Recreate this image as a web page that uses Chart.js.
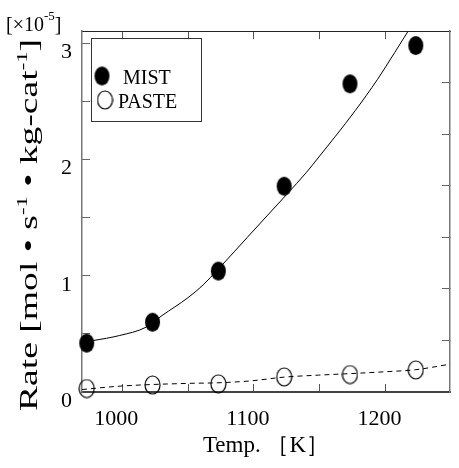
<!DOCTYPE html>
<html>
<head>
<meta charset="utf-8">
<script src="https://cdn.jsdelivr.net/npm/chart.js@4.4.1/dist/chart.umd.min.js"></script>
<style>
  html, body { margin: 0; padding: 0; background: #fff; }
</style>
</head>
<body>
<canvas id="chart-rate" width="459" height="468"></canvas>
<script>
// measured points (rate in 1e-5 mol/s/kg-cat)
const tempK = [973, 1023, 1073, 1123, 1173, 1223];
const mistRate = [0.42, 0.60, 1.04, 1.77, 2.65, 2.98];
const pasteRate = [0.03, 0.06, 0.07, 0.13, 0.15, 0.19];

// fitted curves
const mistFitT = [969.4, 978, 998, 1018, 1030, 1050, 1062, 1072, 1085, 1095, 1110, 1125, 1140, 1150, 1162, 1177, 1194, 1207, 1217];
const mistFitR = [0.43, 0.443, 0.486, 0.557, 0.656, 0.812, 0.927, 1.046, 1.205, 1.33, 1.515, 1.70, 1.89, 2.03, 2.20, 2.42, 2.69, 2.92, 3.10];
const pasteFitT = [969.4, 999, 1049, 1072, 1098, 1123, 1149, 1173, 1198, 1223, 1249];
const pasteFitR = [0.021, 0.051, 0.074, 0.079, 0.096, 0.128, 0.145, 0.158, 0.173, 0.192, 0.239];

const xTickLabels = [1000, 1100, 1200];
const yTickLabels = [0, 1, 2, 3];

const serif = 'Liberation Serif';
const pts = (xs, ys) => xs.map((x, i) => ({ x: x, y: ys[i] }));

// slightly tall ellipses, like the scanned figure
function marker(w, h, filled) {
  const c = document.createElement('canvas');
  c.width = w + 2;
  c.height = h + 2;
  const g = c.getContext('2d');
  g.beginPath();
  g.ellipse(c.width / 2, c.height / 2, w / 2, h / 2, 0, 0, Math.PI * 2);
  if (filled) {
    g.fillStyle = '#000';
    g.fill();
  } else {
    g.lineWidth = 1.2;
    g.strokeStyle = '#000';
    g.stroke();
  }
  return c;
}
const mistMarker = marker(15, 19, true);
const pasteMarker = marker(15, 18, false);

// legend box, y title and exponent are drawn by hand
const decorations = {
  id: 'decorations',
  afterDraw(chart) {
    const ctx = chart.ctx;
    ctx.save();

    // legend
    ctx.strokeStyle = '#333';
    ctx.lineWidth = 1;
    ctx.strokeRect(91.5, 38.5, 110, 83);
    ctx.drawImage(mistMarker, 102 - mistMarker.width / 2, 76 - mistMarker.height / 2);
    ctx.drawImage(pasteMarker, 105 - pasteMarker.width / 2, 100 - pasteMarker.height / 2);
    ctx.fillStyle = '#000';
    ctx.font = '20px "' + serif + '"';
    ctx.textBaseline = 'alphabetic';
    ctx.textAlign = 'left';
    ctx.fillText(chart.data.datasets[0].label, 123, 84);
    ctx.fillText(chart.data.datasets[1].label, 118, 108);

    // exponent  [x10^-5]
    ctx.font = '20px "' + serif + '"';
    ctx.fillText('[\u00d710', 6, 31);
    let w = ctx.measureText('[\u00d710').width;
    ctx.font = '13px "' + serif + '"';
    ctx.fillText('-5', 6 + w, 20);
    w += ctx.measureText('-5').width;
    ctx.font = '20px "' + serif + '"';
    ctx.fillText(']', 6 + w, 31);

    // y title, stretched along its length like the original
    const segs = [['Rate [mol \u2022 s', false], ['-1', true], [' \u2022 kg-cat', false], ['-1', true], [']', false]];
    const mainFont = '25px "' + serif + '"';
    const supFont = '15px "' + serif + '"';
    let total = 0;
    segs.forEach(s => {
      ctx.font = s[1] ? supFont : mainFont;
      total += ctx.measureText(s[0]).width;
    });
    ctx.translate(37, 411);
    ctx.rotate(-Math.PI / 2);
    ctx.scale(372 / total, 1);
    let x = 0;
    segs.forEach(s => {
      ctx.font = s[1] ? supFont : mainFont;
      ctx.fillText(s[0], x, s[1] ? -10 : 0);
      x += ctx.measureText(s[0]).width;
    });
    ctx.restore();
  }
};

const ctx = document.getElementById('chart-rate');

new Chart(ctx, {
  type: 'scatter',
  data: {
    datasets: [
      {
        label: 'MIST',
        data: pts(tempK, mistRate),
        pointStyle: mistMarker,
        pointRadius: 8,
        clip: false
      },
      {
        label: 'PASTE',
        data: pts(tempK, pasteRate),
        pointStyle: pasteMarker,
        pointRadius: 8,
        clip: false
      },
      {
        label: 'MIST fit',
        data: pts(mistFitT, mistFitR),
        showLine: true,
        borderColor: '#000',
        borderWidth: 1,
        pointRadius: 0,
        cubicInterpolationMode: 'monotone'
      },
      {
        label: 'PASTE fit',
        data: pts(pasteFitT, pasteFitR),
        showLine: true,
        borderColor: '#000',
        borderWidth: 1,
        borderDash: [5, 4],
        pointRadius: 0,
        cubicInterpolationMode: 'monotone'
      }
    ]
  },
  options: {
    responsive: false,
    animation: false,
    layout: { padding: 0 },
    plugins: {
      legend: { display: false },
      tooltip: { enabled: false }
    },
    scales: {
      x: {
        type: 'linear',
        position: 'bottom',
        min: 969.4,
        max: 1249,
        afterFit: (s) => { s.height = 76; },
        grid: { drawOnChartArea: false, tickLength: -8, color: '#555' },
        border: { color: '#444', width: 2 },
        ticks: {
          stepSize: 50,
          includeBounds: false,
          autoSkip: false,
          maxRotation: 0,
          padding: 22,
          labelOffset: -6,
          color: '#000',
          font: { family: serif, size: 22 },
          callback: (v) => xTickLabels.includes(v) ? String(v) : ''
        },
        title: {
          display: true,
          text: 'Temp. \uff3bK\uff3d',
          color: '#000',
          font: { family: serif, size: 23 },
          padding: { top: 0, bottom: 8 }
        }
      },
      x2: {
        type: 'linear',
        position: 'top',
        min: 969.4,
        max: 1249,
        afterFit: (s) => { s.height = 28; },
        grid: { drawOnChartArea: false, tickLength: -8, color: '#555' },
        border: { color: '#222', width: 1 },
        ticks: { display: false, stepSize: 50, includeBounds: false, autoSkip: false }
      },
      y: {
        type: 'linear',
        position: 'left',
        min: 0,
        max: 3.103,
        afterFit: (s) => { s.width = 82; },
        grid: { drawOnChartArea: false, tickLength: -8, color: '#666' },
        border: { color: '#777', width: 1.5 },
        ticks: {
          stepSize: 0.5,
          includeBounds: false,
          autoSkip: false,
          padding: 18,
          labelOffset: 9,
          color: '#000',
          font: { family: serif, size: 22 },
          callback: (v) => yTickLabels.includes(v) ? String(v) : ''
        }
      },
      y2: {
        type: 'linear',
        position: 'right',
        min: 0,
        max: 7,
        afterFit: (s) => { s.width = 2; },
        grid: { drawOnChartArea: false, tickLength: -8, color: '#666' },
        border: { color: '#777', width: 1.5 },
        ticks: { display: false, stepSize: 1, includeBounds: false, autoSkip: false }
      }
    }
  },
  plugins: [decorations]
});
</script>
</body>
</html>
